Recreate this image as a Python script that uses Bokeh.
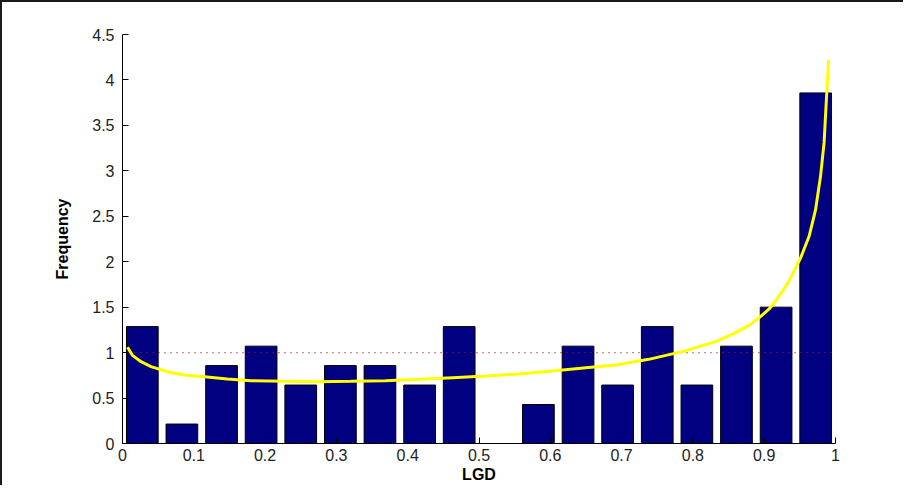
from bokeh.plotting import figure
from bokeh.models import Range1d, FixedTicker
from bokeh.embed import file_html
from bokeh.resources import INLINE

# ---- data ----
bin_centers = [0.0278, 0.0833, 0.1389, 0.1944, 0.2500, 0.3056, 0.3611, 0.4167, 0.4722,
               0.5278, 0.5833, 0.6389, 0.6944, 0.7500, 0.8056, 0.8611, 0.9167, 0.9722]
frequency = [1.286, 0.214, 0.857, 1.071, 0.643, 0.857, 0.857, 0.643, 1.286,
             0.0, 0.429, 1.071, 0.643, 1.286, 0.643, 1.071, 1.500, 3.857]
bin_width = 1.0 / 18

fit_x = [0.007, 0.014, 0.026, 0.040, 0.063, 0.086, 0.115, 0.147, 0.180, 0.227, 0.273,
         0.320, 0.369, 0.416, 0.463, 0.509, 0.556, 0.603, 0.650, 0.692, 0.738, 0.785,
         0.832, 0.855, 0.879, 0.894, 0.907, 0.916, 0.925, 0.935, 0.951, 0.963, 0.972,
         0.979, 0.984, 0.9865, 0.989, 0.9905]
fit_y = [1.06, 0.97, 0.90, 0.846, 0.79, 0.753, 0.735, 0.71, 0.69, 0.684, 0.68,
         0.684, 0.69, 0.706, 0.724, 0.742, 0.764, 0.797, 0.834, 0.864, 0.926, 1.011,
         1.121, 1.20, 1.30, 1.39, 1.48, 1.57, 1.67, 1.79, 2.04, 2.28, 2.57,
         2.94, 3.31, 3.68, 4.04, 4.22]

ref_x = [0.0, 1.0]
ref_y = [1.0, 1.0]

x_ticks = [0, 0.1, 0.2, 0.3, 0.4, 0.5, 0.6, 0.7, 0.8, 0.9, 1]
x_tick_labels = ["0", "0.1", "0.2", "0.3", "0.4", "0.5", "0.6", "0.7", "0.8", "0.9", "1"]
y_ticks = [0, 0.5, 1, 1.5, 2, 2.5, 3, 3.5, 4, 4.5]
y_tick_labels = ["0", "0.5", "1", "1.5", "2", "2.5", "3", "3.5", "4", "4.5"]

# ---- figure ----
p = figure(width=903, height=485, output_backend="svg", toolbar_location=None,
           x_range=Range1d(0, 1), y_range=Range1d(0, 4.5),
           min_border_left=120, min_border_right=70, min_border_top=32, min_border_bottom=44,
           x_axis_label="LGD", y_axis_label="Frequency")
p.styles = {"border-top": "2px solid #1a1a1a", "border-left": "2px solid #1a1a1a"}
p.outline_line_color = None
p.xgrid.grid_line_color = None
p.ygrid.grid_line_color = None
p.background_fill_color = "white"
p.border_fill_color = "white"

p.vbar(x=bin_centers, top=frequency, width=bin_width * 0.8, bottom=0,
       fill_color="#000080", line_color="black", line_width=1)
p.line(ref_x, ref_y, line_color="#a01818", line_width=1.2, line_dash="1 5")
p.line(fit_x, fit_y, line_color="#ffff00", line_width=3)

for ax, ticks, labels in ((p.xaxis[0], x_ticks, x_tick_labels), (p.yaxis[0], y_ticks, y_tick_labels)):
    ax.ticker = FixedTicker(ticks=ticks)
    ax.major_label_overrides = {t: l for t, l in zip(ticks, labels)}
    ax.minor_tick_line_color = None
    ax.major_tick_in = 6
    ax.major_tick_out = 0
    ax.axis_line_color = "black"
    ax.major_tick_line_color = "black"
    ax.major_label_text_font = "Liberation Sans"
    ax.major_label_text_font_size = "16px"
    ax.major_label_text_color = "#222222"
    ax.axis_label_text_font = "Liberation Sans"
    ax.axis_label_text_font_style = "bold"
    ax.axis_label_text_color = "black"

p.xaxis.major_label_standoff = 5
p.yaxis.major_label_standoff = 8
p.xaxis.axis_label_standoff = 2
p.yaxis.axis_label_standoff = 18
p.xaxis.axis_label_text_font_size = "16px"
p.yaxis.axis_label_text_font_size = "16px"

open("out.html", "w").write(file_html(p, INLINE))
